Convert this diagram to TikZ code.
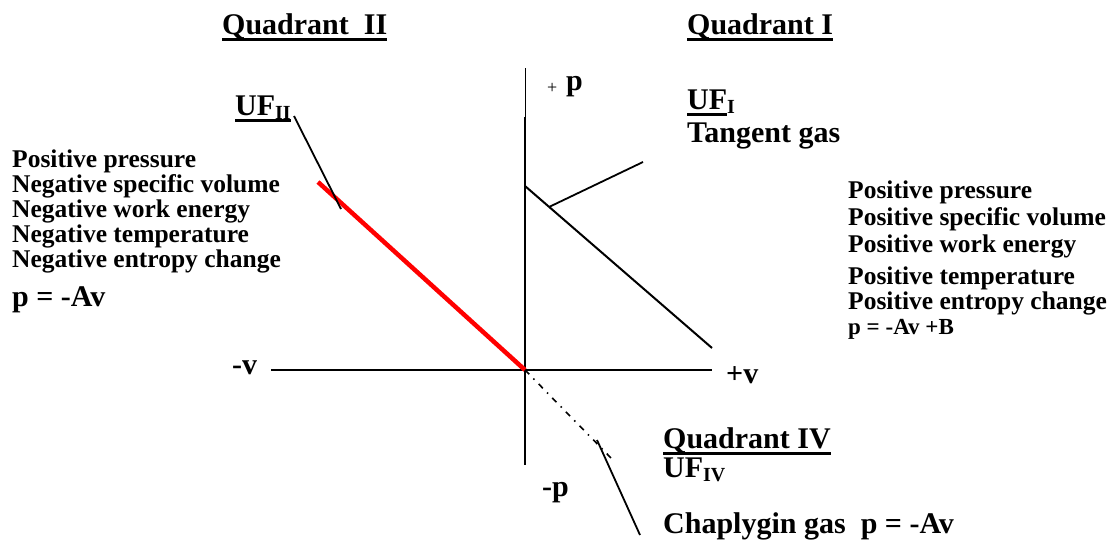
\documentclass[tikz,border=0pt]{standalone}
\usepackage{fontspec}
\setmainfont{Liberation Serif}
\usepackage{tikz}
\usetikzlibrary{positioning}
\definecolor{linered}{RGB}{255,0,0}
\newcommand{\ulbox}[1]{\setbox0=\hbox{#1}\rlap{\rule[-0.24em]{\wd0}{0.1em}}\box0}
\newcommand{\lowsub}[1]{\raisebox{-0.15em}{\fontsize{20}{20}\selectfont #1}}
\tikzset{
  lbl/.style={anchor=base west, inner sep=0pt, font=\bfseries\fontsize{25.5}{25.5}\selectfont},
  head/.style={lbl, font=\bfseries\fontsize{30}{30}\selectfont},
  axis/.style={line width=2pt},
  pointer/.style={line width=1.8pt},
}

\begin{document}
\begin{tikzpicture}[x=1pt, y=-1pt]
    \useasboundingbox (0,0) rectangle (1117,552);
    % axes
    \coordinate (O) at (525,370);
    \coordinate (ptop) at (525,68);
    \coordinate (pmid) at (525,117);
    \coordinate (pbot) at (525,465);
    \coordinate (vleft) at (271,370);
    \coordinate (vright) at (712,370);
    \draw[line width=1pt] (ptop) -- (pmid);
    \draw[axis] (pmid) -- (pbot);
    \draw[axis] (vleft) -- (vright);
    % the three gas lines
    \coordinate (redend) at (318,182);
    \coordinate (qItop) at (525,186);
    \coordinate (qIend) at (712,348);
    \coordinate (qIVend) at (613,460);
    \draw[line width=4.5pt, linered] (redend) -- (O);
    \draw[axis] (qItop) -- (qIend);
    \draw[line width=1.6pt, dash pattern=on 6pt off 6pt on 1.5pt off 6pt] (O) -- (qIVend);
    % pointers
    \coordinate (ufIIa) at (294,116);
    \coordinate (ufIIb) at (341,209);
    \coordinate (ufIa) at (549,207);
    \coordinate (ufIb) at (643,162);
    \coordinate (ufIVa) at (597,440);
    \coordinate (ufIVb) at (640,535);
    \draw[pointer] (ufIIa) -- (ufIIb);
    \draw[pointer] (ufIa) -- (ufIb);
    \draw[pointer] (ufIVa) -- (ufIVb);
    % axis labels
    \node[lbl, font=\fontsize{18}{18}\selectfont] (plus) at (547,93) {+};
    \node[head] (pp) at (566,90) {p};
    \node[head] (vminus) at (232,374) {-v};
    \node[head] (vplus) at (726,383) {+v};
    \node[head] (pminus) at (542,496) {-p};
    % quadrant II
    \node[head] (qII) at (222,34) {\ulbox{Quadrant\ \ II}};
    \node[head] (ufII) at (235,115) {\ulbox{UF\lowsub{II}}};
    \node[lbl] (l1) at (12,167) {Positive pressure};
    \node[lbl] (l2) at (12,192) {Negative specific volume};
    \node[lbl] (l3) at (12,217) {Negative work energy};
    \node[lbl] (l4) at (12,242) {Negative temperature};
    \node[lbl] (l5) at (12,267) {Negative entropy change};
    \node[head] (l6) at (12,306) {p = -Av};
    % quadrant I
    \node[head] (qI) at (687,34) {\ulbox{Quadrant I}};
    \node[head] (ufI) at (687,109) {\ulbox{UF}\lowsub{I}};
    \node[head] (tangent) at (687,142) {Tangent gas};
    \node[lbl] (r1) at (848,198) {Positive pressure};
    \node[lbl] (r2) at (848,225) {Positive specific volume};
    \node[lbl] (r3) at (848,252) {Positive work energy};
    \node[lbl] (r4) at (848,284) {Positive temperature};
    \node[lbl] (r5) at (848,309) {Positive entropy change};
    \node[lbl, font=\bfseries\fontsize{23}{23}\selectfont] (r6) at (848,334) {p = -Av +B};
    % quadrant IV
    \node[head] (qIV) at (663,448) {\ulbox{Quadrant IV}};
    \node[head] (ufIV) at (663,477) {UF\lowsub{IV}};
    \node[head] (chap) at (663,533) {Chaplygin gas\ \ p = -Av};
\end{tikzpicture}
\end{document}
